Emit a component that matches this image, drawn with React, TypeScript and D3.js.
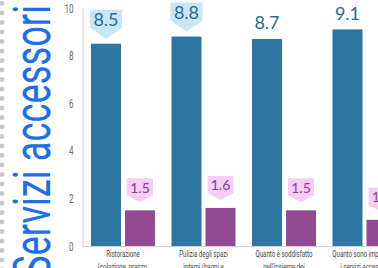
// @ts-nocheck
import React, { useEffect, useRef } from 'react';
import * as d3 from 'd3';

// dati
const categories = ['Ristorazione', 'Pulizia', 'Quanto', 'Importanza'];
const labelLine1 = ['Ristorazione', 'Pulizia degli spazi', 'Quanto è soddisfatto', 'Quanto sono importanti'];
const labelLine2 = ['(colazione, pranzo,', 'interni (bagni e', "nell'insieme dei", 'i servizi accessori'];
const valoriBlu = [8.5, 8.8, 8.7, 9.1];
const valoriViola = [1.5, 1.6, 1.5, 1.1];
const calloutBlu = [true, true, false, false];
const yTicks = [0, 2, 4, 6, 8, 10];
const titolo = 'Servizi accessori';

const W = 378;
const H = 268;

const App: React.FC = () => {
  const chartRef = useRef<SVGSVGElement | null>(null);

  useEffect(() => {
    drawChart();
  }, []);

  const drawChart = () => {
    const svg = d3.select(chartRef.current);
    svg.selectAll('*').remove();

    const left = 83;
    const bottom = 246;

    const y = d3.scaleLinear().domain([0, 10]).range([bottom, 8]);

    const step = 80.5;
    const x0 = d3
      .scaleBand()
      .domain(categories)
      .range([left, left + step * (4 - 0.205 + 2 * 0.0994)])
      .paddingInner(0.205)
      .paddingOuter(0.0994);

    const x1 = d3
      .scaleBand()
      .domain(['blu', 'viola'])
      .range([0, x0.bandwidth()])
      .paddingInner(4 / 34);

    // puntini decorativi a sinistra
    svg.append('g')
      .selectAll('circle')
      .data(d3.range(0, 29))
      .enter()
      .append('circle')
      .attr('cx', 2)
      .attr('cy', (d) => 3.5 + d * 9.5)
      .attr('r', 2.4)
      .attr('fill', '#c6c6c6');

    // titolo verticale
    svg.append('text')
      .attr('transform', 'translate(50,277) rotate(-90)')
      .attr('font-family', 'Roboto, sans-serif')
      .attr('font-size', 52)
      .attr('fill', '#1f6fe3')
      .attr('textLength', 272)
      .attr('lengthAdjust', 'spacingAndGlyphs')
      .text(titolo);

    // assi
    svg.append('line')
      .attr('x1', left).attr('x2', left)
      .attr('y1', y(10)).attr('y2', bottom)
      .attr('stroke', '#cfcfcf');
    svg.append('line')
      .attr('x1', left).attr('x2', W)
      .attr('y1', bottom + 0.5).attr('y2', bottom + 0.5)
      .attr('stroke', '#cfcfcf');

    // etichette asse Y
    svg.append('g')
      .selectAll('text')
      .data(yTicks)
      .enter()
      .append('text')
      .attr('transform', (d) => `translate(73.5,${y(d) + 4.5}) scale(0.62,1)`)
      .attr('text-anchor', 'end')
      .attr('font-family', 'Roboto, sans-serif')
      .attr('font-size', 13)
      .attr('fill', '#666')
      .text((d) => d);

    const gruppi = svg.append('g')
      .selectAll('g')
      .data(categories)
      .enter()
      .append('g')
      .attr('transform', (d) => `translate(${x0(d)},0)`);

    // barre blu
    gruppi.append('rect')
      .attr('x', x1('blu'))
      .attr('width', x1.bandwidth())
      .attr('y', (d, i) => y(valoriBlu[i]))
      .attr('height', (d, i) => bottom - y(valoriBlu[i]))
      .attr('fill', '#2f76a0');

    // barre viola
    gruppi.append('rect')
      .attr('x', x1('viola'))
      .attr('width', x1.bandwidth())
      .attr('y', (d, i) => y(valoriViola[i]))
      .attr('height', (d, i) => bottom - y(valoriViola[i]))
      .attr('fill', '#924a93');

    const fumetto = (cx, top, w, h, tip) =>
      `M${cx - w / 2},${top} H${cx + w / 2} V${top + h} L${cx},${top + h + tip} L${cx - w / 2},${top + h} Z`;

    // etichette blu (le prime due con fumetto)
    const cxB = x1('blu') + x1.bandwidth() / 2;
    gruppi.filter((d, i) => calloutBlu[i])
      .append('path')
      .attr('d', (d) => {
        const i = categories.indexOf(d);
        const t = y(valoriBlu[i]);
        return fumetto(cxB, t - 34, 32, 18, 11);
      })
      .attr('fill', '#c8e6f7');

    gruppi.append('text')
      .attr('x', cxB)
      .attr('y', (d, i) => y(valoriBlu[i]) - (calloutBlu[i] ? 17.5 : 9.5))
      .attr('text-anchor', 'middle')
      .attr('font-family', 'Lato, sans-serif')
      .attr('font-size', 18)
      .attr('fill', '#2c6a93')
      .text((d, i) => valoriBlu[i].toFixed(1));

    // etichette viola con fumetto
    const cxV = x1('viola') + x1.bandwidth() / 2;
    gruppi.append('path')
      .attr('d', (d, i) => fumetto(cxV, y(valoriViola[i]) - 32, 26, 17, 7))
      .attr('fill', '#f5cdf5');

    gruppi.append('text')
      .attr('x', cxV)
      .attr('y', (d, i) => y(valoriViola[i]) - 17.5)
      .attr('text-anchor', 'middle')
      .attr('font-family', 'Lato, sans-serif')
      .attr('font-size', 14)
      .attr('fill', '#8c3f8c')
      .text((d, i) => valoriViola[i].toFixed(1));

    // etichette asse X su due righe
    const cxG = x0.bandwidth() / 2;
    gruppi.append('text')
      .attr('transform', `translate(${cxG},257) scale(0.72,1)`)
      .attr('text-anchor', 'middle')
      .attr('font-family', 'Roboto, sans-serif')
      .attr('font-size', 8.5)
      .attr('fill', '#444')
      .text((d, i) => labelLine1[i]);
    gruppi.append('text')
      .attr('transform', `translate(${cxG},269.5) scale(0.72,1)`)
      .attr('text-anchor', 'middle')
      .attr('font-family', 'Roboto, sans-serif')
      .attr('font-size', 8.5)
      .attr('fill', '#444')
      .text((d, i) => labelLine2[i]);
  };

  return (
    <svg
      ref={chartRef}
      width={W}
      height={H}
      style={{ position: 'absolute', left: 0, top: 0, background: '#fff' }}
    ></svg>
  );
};

export default App;
